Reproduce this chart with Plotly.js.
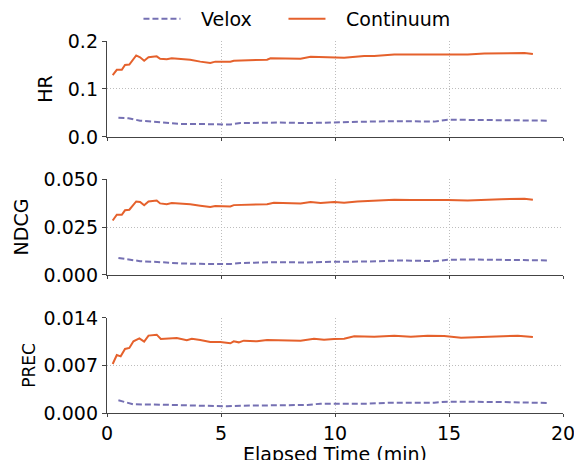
<!DOCTYPE html>
<html><head><meta charset="utf-8">
<script src="https://cdn.plot.ly/plotly-3.0.1.min.js"></script>
<style>html,body{margin:0;padding:0;background:#fff}#chart{width:574px;height:460px}</style>
</head><body><div id="chart"></div>
<script>
// ---- data ----
const seriesNames = ["Velox", "Continuum"];
const metricNames = ["HR", "NDCG", "PREC"];
const xTitle = "Elapsed Time (min)";
const xTicks = [0, 5, 10, 15, 20];

const tContHR = [0.25,0.43,0.65,0.79,0.98,1.28,1.45,1.63,1.82,2.18,2.33,2.62,2.84,3.21,3.65,4.09,4.53,4.75,5.41,5.56,6.29,7.02,7.17,7.90,8.49,8.93,9.37,9.96,10.40,11.28,11.72,12.60,13.33,14.35,15.82,16.55,17.29,18.31,18.68];
const contHR = [0.129,0.140,0.140,0.150,0.151,0.170,0.166,0.159,0.166,0.168,0.163,0.162,0.164,0.162,0.161,0.157,0.154,0.157,0.157,0.159,0.160,0.161,0.164,0.164,0.163,0.167,0.166,0.166,0.165,0.169,0.169,0.172,0.172,0.172,0.172,0.174,0.175,0.175,0.173];

const tVelox = [0.50,0.94,1.45,2.33,3.21,4.09,5.41,5.85,7.46,8.78,9.96,11.42,12.89,14.35,14.94,15.82,17.29,19.34];
const veloxHR = [0.040,0.039,0.034,0.030,0.027,0.027,0.026,0.029,0.030,0.029,0.031,0.032,0.033,0.032,0.036,0.036,0.035,0.034];

const tContNDCG = [0.25,0.43,0.65,0.79,0.98,1.28,1.45,1.63,1.82,2.18,2.33,2.62,2.84,3.21,3.65,4.09,4.53,4.75,5.41,5.56,6.29,7.02,7.32,8.49,8.93,9.37,9.96,10.40,10.98,12.60,13.33,14.35,14.94,15.82,16.55,17.29,18.31,18.68];
const contNDCG = [0.0284,0.0314,0.0314,0.0337,0.0340,0.0383,0.0380,0.0363,0.0383,0.0388,0.0373,0.0369,0.0375,0.0373,0.0369,0.0361,0.0354,0.0359,0.0357,0.0364,0.0368,0.0369,0.0376,0.0373,0.0380,0.0375,0.0380,0.0376,0.0383,0.0392,0.0390,0.0392,0.0390,0.0388,0.0392,0.0395,0.0397,0.0392];

const tVeloxNDCG = [0.50,0.94,1.45,2.33,3.21,4.09,5.41,5.85,7.46,8.78,9.96,11.42,12.89,14.35,14.94,15.82,17.29,19.34];
const veloxNDCG = [0.0089,0.0082,0.0072,0.0067,0.0060,0.0058,0.0057,0.0062,0.0067,0.0065,0.0069,0.0070,0.0076,0.0072,0.0079,0.0081,0.0079,0.0076];

const tContPREC = [0.25,0.43,0.60,0.79,0.98,1.16,1.42,1.63,1.82,2.18,2.36,2.77,3.06,3.50,3.72,4.09,4.53,4.97,5.41,5.56,5.78,6.00,6.58,7.02,7.61,8.49,9.08,9.52,9.96,10.40,10.84,11.72,12.60,13.33,14.06,14.79,15.53,16.55,17.29,18.02,18.68];
const contPREC = [0.00722,0.00855,0.00835,0.00943,0.00958,0.01056,0.01100,0.01051,0.01140,0.01154,0.01091,0.01095,0.01105,0.01071,0.01095,0.01076,0.01046,0.01046,0.01027,0.01056,0.01041,0.01066,0.01056,0.01076,0.01071,0.01066,0.01095,0.01081,0.01091,0.01095,0.01130,0.01125,0.01140,0.01125,0.01140,0.01135,0.01110,0.01125,0.01130,0.01140,0.01120];

const tVeloxPREC = [0.50,1.16,2.33,3.21,4.09,5.26,5.85,7.46,8.78,9.37,11.42,12.45,14.35,14.94,15.82,17.29,19.34];
const veloxPREC = [0.00187,0.00128,0.00123,0.00113,0.00108,0.00098,0.00108,0.00118,0.00118,0.00138,0.00138,0.00152,0.00152,0.00167,0.00167,0.00162,0.00147];

const yTicksHR = [0.0, 0.1, 0.2];
const yTickTextHR = ["0.0", "0.1", "0.2"];
const yTicksNDCG = [0.000, 0.025, 0.050];
const yTickTextNDCG = ["0.000", "0.025", "0.050"];
const yTicksPREC = [0.000, 0.007, 0.014];
const yTickTextPREC = ["0.000", "0.007", "0.014"];

// ---- styling ----
const cVelox = "#7570b3";
const cCont = "#e5612c";
const FONT = "DejaVu Sans, sans-serif";
const FS = 19;
const GAP = "\u2002\u00a0"; // visual gap between legend sample and label

function vel(x, y, ax, show) {
  return {x: x, y: y, xaxis: "x" + ax, yaxis: "y" + ax, type: "scatter", mode: "lines",
    name: GAP + seriesNames[0], showlegend: show, legend: "legend",
    line: {color: cVelox, width: 2, dash: "6px,3px"}};
}
function con(x, y, ax, show) {
  return {x: x, y: y, xaxis: "x" + ax, yaxis: "y" + ax, type: "scatter", mode: "lines",
    name: GAP + seriesNames[1], showlegend: show, legend: "legend2",
    line: {color: cCont, width: 2}};
}
const data = [
  vel(tVelox, veloxHR, "", true), con(tContHR, contHR, "", true),
  vel(tVeloxNDCG, veloxNDCG, "2", false), con(tContNDCG, contNDCG, "2", false),
  vel(tVeloxPREC, veloxPREC, "3", false), con(tContPREC, contPREC, "3", false)
];

const GRID = {showgrid: true, gridcolor: "#bdbdbd", griddash: "1px,2px", gridwidth: 1, zeroline: false};
function xax(anchor, labels) {
  return Object.assign({domain: [0, 1], anchor: anchor, range: [0, 20], tickvals: xTicks,
    showticklabels: labels, ticks: "outside", ticklen: 3, tickwidth: 1, tickcolor: "#444",
    showline: true, linecolor: "#444", linewidth: 1.2, ticklabeloverflow: "allow",
    tickfont: {family: FONT, size: FS, color: "#000"}}, GRID);
}
function yax(domain, anchor, range, tv, tt, title, tsize, standoff) {
  return Object.assign({domain: domain, anchor: anchor, range: range, tickvals: tv, ticktext: tt,
    ticks: "outside", ticklen: 4, tickwidth: 1, tickcolor: "#444",
    showline: true, linecolor: "#444", linewidth: 1.2,
    tickfont: {family: FONT, size: FS, color: "#000"},
    title: {text: title, font: {family: FONT, size: tsize, color: "#000"}, standoff: standoff}}, GRID);
}
function leg(x) {
  return {orientation: "h", x: x, xanchor: "left", y: 1.0, yanchor: "top",
    yref: "container", font: {family: FONT, size: FS, color: "#000"},
    bgcolor: "rgba(0,0,0,0)", itemwidth: 37};
}

const layout = {
  width: 574, height: 460,
  margin: {l: 107, r: 11, t: 41, b: 47},
  paper_bgcolor: "#fff", plot_bgcolor: "#fff",
  font: {family: FONT, color: "#000"},
  showlegend: true,
  legend: leg(0.069),
  legend2: leg(0.387),
  xaxis: xax("y", false),
  yaxis: yax([0.742, 1], "x", [0, 0.2], yTicksHR, yTickTextHR, metricNames[0], FS, 10),
  xaxis2: xax("y2", false),
  yaxis2: yax([0.371, 0.629], "x2", [0, 0.05], yTicksNDCG, yTickTextNDCG, metricNames[1], FS, 10),
  xaxis3: xax("y3", true),
  yaxis3: yax([0, 0.2554], "x3", [0, 0.014], yTicksPREC, yTickTextPREC, metricNames[2], 17, 3),
  annotations: [{text: xTitle, xref: "paper", yref: "paper", x: 0.5, y: -0.11,
    xanchor: "center", yanchor: "middle", showarrow: false,
    font: {family: FONT, size: FS, color: "#000"}}]
};

Plotly.newPlot("chart", data, layout, {staticPlot: true, displayModeBar: false});
</script></body></html>
